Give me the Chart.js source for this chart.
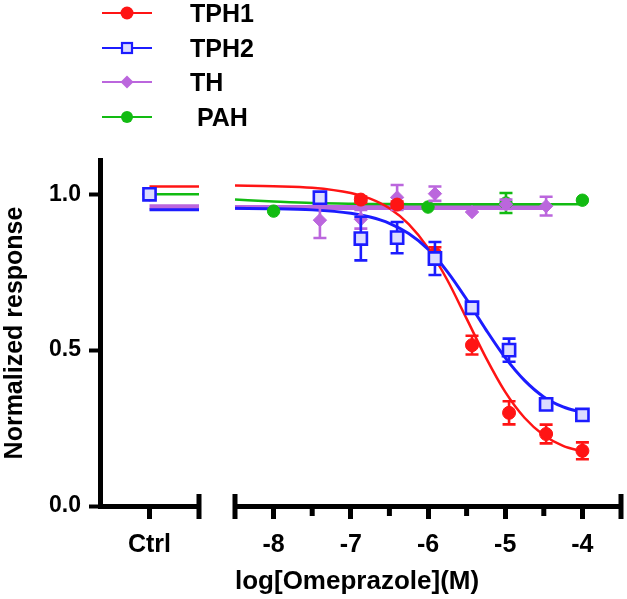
<!DOCTYPE html>
<html><head><meta charset="utf-8">
<script src="https://cdn.jsdelivr.net/npm/chart.js@4.4.0/dist/chart.umd.min.js"></script>
<style>
html,body{margin:0;padding:0;background:#fff;}
#wrap{position:relative;width:627px;height:599px;overflow:hidden;font-family:'Liberation Sans',Arial,sans-serif;}
canvas{position:absolute;top:0;}
.leg{position:absolute;left:100px;}
.legtxt{position:absolute;left:190px;font-weight:bold;font-size:25px;line-height:24px;white-space:pre;color:#000;}
</style></head>
<body><div id="wrap">
<canvas id="c1" width="215" height="599" style="left:0"></canvas>
<canvas id="c2" width="412" height="599" style="left:215px"></canvas>
<div id="legend"></div>
</div>
<script>
// ---------- data ----------
const xTickValues = [-8, -7, -6, -5, -4];
const xMinorValues = [-7.5, -6.5, -5.5, -4.5];
const yTickValues = [0, 0.5, 1.0];
const ctrlLabel = 'Ctrl';
const seriesNames = ['TPH1', 'TPH2', 'TH', ' PAH'];
const ctrlValues = [1.0, 1.0, 1.0, 1.0];
const ctrlFitValues = [1.025, 0.95, 0.96, 1.0];

const tph1X = [-6.87, -6.4, -5.91, -5.43, -4.95, -4.47, -4.0];
const tph1Y = [0.983, 0.967, 0.81, 0.516, 0.299, 0.231, 0.177];
const tph1Err = [0.01, 0.01, 0.02, 0.03, 0.037, 0.03, 0.027];

const tph2X = [-7.4, -6.87, -6.4, -5.91, -5.43, -4.95, -4.47, -4.0];
const tph2Y = [0.989, 0.858, 0.861, 0.794, 0.636, 0.5, 0.326, 0.292];
const tph2Err = [0, 0.07, 0.05, 0.053, 0.015, 0.037, 0.01, 0.01];

const thX = [-7.4, -6.87, -6.4, -5.91, -5.43, -4.99, -4.47];
const thY = [0.917, 0.92, 0.99, 1.002, 0.943, 0.968, 0.962];
const thErr = [0.057, 0.03, 0.04, 0.023, 0, 0.015, 0.03];

const pahX = [-8.0, -6.0, -4.99, -4.0];
const pahY = [0.946, 0.959, 0.972, 0.981];
const pahErr = [0, 0, 0.032, 0];

const fitX = [-8.5, -8, -7.5, -7, -6.75, -6.5, -6.25, -6, -5.75, -5.5, -5.25, -5, -4.75, -4.5, -4.25, -4];
const tph1Fit = [1.028, 1.026, 1.021, 1.004, 0.986, 0.955, 0.904, 0.828, 0.725, 0.601, 0.476, 0.366, 0.283, 0.227, 0.193, 0.175];
const tph2Fit = [0.955, 0.954, 0.950, 0.939, 0.927, 0.907, 0.874, 0.824, 0.752, 0.663, 0.566, 0.476, 0.403, 0.350, 0.318, 0.300];
const pahFit = [0.983, 0.977, 0.972, 0.970, 0.969, 0.969, 0.968, 0.968, 0.968, 0.968, 0.968, 0.968, 0.968, 0.968, 0.968, 0.968];
const thFitX = [-8.5, -4.47];
const thFit = [0.958, 0.958];

// ---------- style ----------
const FONT = "'Liberation Sans', Arial, sans-serif";
const RED = '#ff1414', BLUE = '#1c1cff', PURPLE = '#bb66dd', GREEN = '#12bb12';
const yMax = 1.11;
const PLOT_TOP = 160, PLOT_BOTTOM = 506, H = 599;

const pts = (xs, ys) => xs.map((x, i) => ({x, y: ys[i]}));

const markers = [
  {color: RED, pointStyle: 'circle', pointRadius: 6.5, bg: RED, bw: 1},
  {color: BLUE, pointStyle: 'rect', pointRadius: 8.6, bg: '#dcdcff', bw: 2.6},
  {color: PURPLE, pointStyle: 'rectRot', pointRadius: 6.7, bg: PURPLE, bw: 1},
  {color: GREEN, pointStyle: 'circle', pointRadius: 6.2, bg: GREEN, bw: 1}
];

function pointDs(i, data, errs, order) {
  const m = markers[i];
  return {label: seriesNames[i], data, errors: errs, showLine: false, order,
    pointStyle: m.pointStyle, pointRadius: m.pointRadius, pointBackgroundColor: m.bg,
    pointBorderColor: m.color, pointBorderWidth: m.bw, borderColor: m.color, backgroundColor: m.bg};
}
function fitDs(i, data, width, order) {
  return {label: seriesNames[i] + ' fit', data, showLine: true, pointRadius: 0, borderColor: markers[i].color,
    borderWidth: width, cubicInterpolationMode: 'monotone', order, fill: false};
}

// ---------- plugins ----------
const errorBars = {
  id: 'errorBars',
  beforeDatasetDraw(chart, args) {
    const ds = chart.data.datasets[args.index];
    if (!ds.errors) return;
    const ys = chart.scales.y, ctx = chart.ctx;
    ctx.save();
    ctx.strokeStyle = ds.borderColor; ctx.lineWidth = 2.6;
    args.meta.data.forEach((p, k) => {
      const e = ds.errors[k];
      if (!e) return;
      const v = ds.data[k].y;
      const y1 = ys.getPixelForValue(v + e), y2 = ys.getPixelForValue(v - e);
      ctx.beginPath();
      ctx.moveTo(p.x, y1); ctx.lineTo(p.x, y2);
      ctx.moveTo(p.x - 6.5, y1); ctx.lineTo(p.x + 6.5, y1);
      ctx.moveTo(p.x - 6.5, y2); ctx.lineTo(p.x + 6.5, y2);
      ctx.stroke();
    });
    ctx.restore();
  }
};
const axisDeco = {
  id: 'axisDeco',
  afterDraw(chart, args, opts) {
    const ctx = chart.ctx, a = chart.chartArea, x = chart.scales.x;
    ctx.save(); ctx.fillStyle = '#000';
    (opts.caps || []).forEach(side => {
      const px = side === 'left' ? a.left : a.right;
      ctx.fillRect(px - 2.5, a.bottom - 12, 5, 25);
    });
    (opts.minor || []).forEach(v => {
      const px = x.getPixelForValue(v);
      ctx.fillRect(px - 2.5, a.bottom, 5, 10);
    });
    ctx.restore();
  }
};

function yScale(show) {
  return {
    min: 0, max: yMax, display: show,
    afterBuildTicks: s => { s.ticks = yTickValues.map(v => ({value: v})); },
    afterFit: s => { if (show) s.width = 100; },
    border: {display: true, width: 5, color: '#000'},
    grid: {display: true, drawOnChartArea: false, drawTicks: true, tickLength: 11, tickWidth: 4, tickColor: '#000'},
    ticks: {padding: 8, color: '#000', font: {family: FONT, size: 23, weight: 'bold'}, callback: v => Number(v).toFixed(1)},
    title: {display: show, text: 'Normalized response', color: '#000', padding: {top: 0, bottom: 0},
      font: {family: FONT, size: 25, weight: 'bold'}}
  };
}
function xScale(min, max, tickVals, labelFn, title) {
  return {
    type: 'linear', min, max,
    afterBuildTicks: s => { s.ticks = tickVals.map(v => ({value: v})); },
    afterFit: s => { s.height = H - PLOT_BOTTOM; },
    border: {display: true, width: 5, color: '#000'},
    grid: {display: true, drawOnChartArea: false, drawTicks: true, tickLength: 13, tickWidth: 5, tickColor: '#000'},
    ticks: {padding: 11, color: '#000', maxRotation: 0, autoSkip: false, font: {family: FONT, size: 25, weight: 'bold'}, callback: labelFn},
    title: title ? {display: true, text: title, align: 'start', color: '#000', padding: {top: 0, bottom: 2},
      font: {family: FONT, size: 26, weight: 'bold'}} : {display: false}
  };
}
const common = {
  responsive: false, animation: false, devicePixelRatio: 1,
  plugins: {legend: {display: false}, tooltip: {enabled: false}},
  events: []
};

// ---------- left panel (Ctrl) ----------
new Chart(document.getElementById('c1'), {
  type: 'scatter',
  data: {datasets: [
    pointDs(1, [{x: 1, y: ctrlValues[1]}], null, 0),
    pointDs(0, [{x: 1, y: ctrlValues[0]}], null, 1),
    pointDs(2, [{x: 1, y: ctrlValues[2]}], null, 2),
    pointDs(3, [{x: 1, y: ctrlValues[3]}], null, 3),
    fitDs(1, [{x: 1, y: ctrlFitValues[1]}, {x: 2, y: ctrlFitValues[1]}], 3, 4),
    fitDs(0, [{x: 1, y: ctrlFitValues[0]}, {x: 2, y: ctrlFitValues[0]}], 2.5, 5),
    fitDs(3, [{x: 1, y: ctrlFitValues[3]}, {x: 2, y: ctrlFitValues[3]}], 2.5, 6),
    fitDs(2, [{x: 1, y: ctrlFitValues[2]}, {x: 2, y: ctrlFitValues[2]}], 5, 7)
  ]},
  options: Object.assign({}, common, {
    layout: {padding: {top: PLOT_TOP, left: 0, right: 16, bottom: 0}, autoPadding: false},
    clip: false,
    scales: {x: xScale(0, 2, [1], () => ctrlLabel, null), y: yScale(true)},
    plugins: Object.assign({}, common.plugins, {axisDeco: {caps: ['right'], minor: []}})
  }),
  plugins: [errorBars, axisDeco]
});

// ---------- right panel (dose response) ----------
new Chart(document.getElementById('c2'), {
  type: 'scatter',
  data: {datasets: [
    pointDs(1, pts(tph2X, tph2Y), tph2Err, 0),
    pointDs(0, pts(tph1X, tph1Y), tph1Err, 1),
    pointDs(2, pts(thX, thY), thErr, 2),
    pointDs(3, pts(pahX, pahY), pahErr, 3),
    fitDs(1, pts(fitX, tph2Fit), 3, 4),
    fitDs(0, pts(fitX, tph1Fit), 2.5, 5),
    fitDs(3, pts(fitX, pahFit), 2.5, 6),
    fitDs(2, pts(thFitX, thFit), 5, 7)
  ]},
  options: Object.assign({}, common, {
    layout: {padding: {top: PLOT_TOP, left: 20, right: 6, bottom: 0}, autoPadding: false},
    clip: false,
    scales: {x: xScale(-8.5, -3.5, xTickValues, v => String(v), 'log[Omeprazole](M)'), y: yScale(false)},
    plugins: Object.assign({}, common.plugins, {axisDeco: {caps: ['left', 'right'], minor: xMinorValues}})
  }),
  plugins: [errorBars, axisDeco]
});

// ---------- legend ----------
(function () {
  const leg = document.getElementById('legend');
  seriesNames.forEach((name, i) => {
    const cy = 13 + i * 34.7;
    const m = markers[i];
    let mk = '';
    if (m.pointStyle === 'circle') mk = `<circle cx="27" cy="10" r="${i === 0 ? 6.5 : 6}" fill="${m.color}"/>`;
    else if (m.pointStyle === 'rect') mk = `<rect x="22" y="5" width="10" height="10" fill="#dcdcff" stroke="${m.color}" stroke-width="2.2"/>`;
    else mk = `<polygon points="27,3.5 33.5,10 27,16.5 20.5,10" fill="${m.color}"/>`;
    const svg = `<svg class="leg" width="56" height="20" style="top:${cy - 10}px"><line x1="2" y1="10" x2="52" y2="10" stroke="${m.color}" stroke-width="2.2"/>${mk}</svg>`;
    leg.insertAdjacentHTML('beforeend', svg + `<div class="legtxt" style="top:${cy - 12}px">${name}</div>`);
  });
})();
</script>
</body></html>
